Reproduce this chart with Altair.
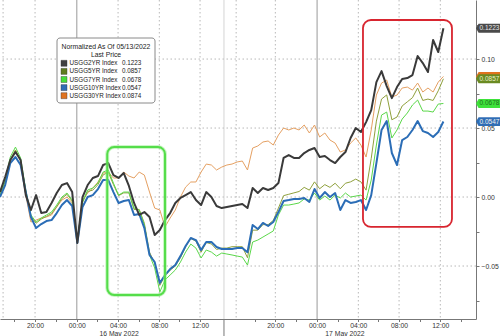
import json
import altair as alt
import pandas as pd

FONT = "Liberation Sans"

# ---------------- data ----------------
series = ["USGG2YR Index", "USGG5YR Index", "USGG7YR Index", "USGG10YR Index", "USGG30YR Index"]
last_price = ["0.1223", "0.0857", "0.0678", "0.0547", "0.0874"]
last_value = [0.1223, 0.0857, 0.0678, 0.0547, 0.0874]

# sample times, half-hour steps in session hours (break removed)
hours = [0.5 * i for i in range(87)]

y2 = [0.0036, 0.0145, 0.0268, 0.0326, 0.0268, 0.0014, -0.0094, 0.0014, -0.0116, -0.0109,
      -0.0043, 0.0029, 0.0087, 0.0101, 0.0036, -0.0333, 0.0, 0.0087, 0.0138, 0.0152,
      0.0232, 0.0246, 0.0159, 0.0138, 0.0174, 0.008, -0.0043, -0.013, -0.0109, -0.0145,
      -0.0275, -0.0239, -0.0167, -0.0116, -0.0043, -0.0007, 0.0014, 0.0036, -0.0022, -0.0058,
      0.0036, 0.0, -0.0065, -0.008, -0.0072, -0.0065, -0.0058, -0.0051, -0.008, 0.0065,
      0.0029, 0.0065, 0.0051, 0.0065, 0.0101, 0.0283, 0.0304, 0.0283, 0.0283, 0.0319,
      0.0341, 0.0355, 0.029, 0.0297, 0.0268, 0.0246, 0.029, 0.0326, 0.0428, 0.05,
      0.0471, 0.0543, 0.063, 0.0833, 0.0913, 0.0804, 0.0717, 0.0797, 0.0855, 0.0862,
      0.0884, 0.1022, 0.0971, 0.0906, 0.1138, 0.1051, 0.1223]

y5 = [0.001, 0.011, 0.027, 0.034, 0.026, 0.004, -0.014, -0.019, -0.016, -0.014,
      -0.012, -0.007, -0.001, 0.002, -0.003, -0.032, -0.004, 0.004, 0.005, 0.009,
      0.016, 0.018, 0.009, 0.001, 0.003, 0.003, -0.009, -0.009, -0.019, -0.04,
      -0.048, -0.064, -0.057, -0.053, -0.05, -0.044, -0.036, -0.03, -0.032, -0.04,
      -0.033, -0.034, -0.038, -0.037, -0.037, -0.036, -0.036, -0.036, -0.044, -0.024,
      -0.024, -0.02, -0.02, -0.017, -0.008, 0.001, 0.002, 0.003, 0.004, 0.007,
      0.005, 0.011, 0.006, 0.009, 0.007, 0.01, 0.006, 0.01, 0.011, 0.013,
      0.011, 0.005, 0.028, 0.055, 0.071, 0.074, 0.056, 0.058, 0.066, 0.069,
      0.072, 0.079, 0.07, 0.071, 0.07, 0.077, 0.0857]

y7 = [0.0014, 0.0123, 0.029, 0.0362, 0.0283, 0.0051, -0.013, -0.0181, -0.0152, -0.013,
      -0.0109, -0.0058, 0.0, 0.0029, -0.0022, -0.0312, -0.0036, 0.0051, 0.0065, 0.0101,
      0.0181, 0.0196, 0.0101, 0.0014, 0.0036, 0.0036, -0.008, -0.0094, -0.0203, -0.042,
      -0.0514, -0.0688, -0.0601, -0.0565, -0.0529, -0.0471, -0.0399, -0.0341, -0.037, -0.0442,
      -0.0384, -0.0399, -0.0428, -0.0406, -0.0413, -0.042, -0.0428, -0.0435, -0.0493, -0.0326,
      -0.0312, -0.029, -0.0268, -0.0246, -0.013, -0.0058, -0.0058, -0.0051, -0.0043, -0.0014,
      -0.0022, 0.0029, -0.0022, 0.0007, -0.0022, 0.0014, -0.0007, 0.0029, 0.0, 0.0007,
      0.0014, -0.0022, 0.0123, 0.0377, 0.0594, 0.0616, 0.0428, 0.0486, 0.0565, 0.0609,
      0.0667, 0.0703, 0.0623, 0.0623, 0.0616, 0.0674, 0.0678]

y10 = [0.0, 0.0087, 0.0246, 0.029, 0.0232, 0.0036, -0.0145, -0.0225, -0.0196, -0.0174,
       -0.0167, -0.0116, -0.0058, -0.0022, -0.0065, -0.0333, -0.0072, 0.0, 0.0014, 0.0058,
       0.0123, 0.0123, 0.0036, -0.0043, -0.0029, -0.0022, -0.013, -0.0123, -0.0225, -0.042,
       -0.0471, -0.0623, -0.0565, -0.0522, -0.0493, -0.0428, -0.0355, -0.0297, -0.0312, -0.0384,
       -0.0326, -0.0326, -0.0362, -0.0377, -0.0377, -0.0377, -0.037, -0.037, -0.04, -0.0203,
       -0.0232, -0.0188, -0.021, -0.0181, -0.0109, -0.0029, -0.0022, -0.0014, -0.0014, -0.0007,
       -0.0036, 0.0058, -0.0007, 0.0036, 0.0, 0.0029, -0.0094, -0.0022, -0.0043, -0.0036,
       -0.0022, -0.0094, 0.0014, 0.0246, 0.0486, 0.0551, 0.0319, 0.0232, 0.0413, 0.0435,
       0.0486, 0.0551, 0.0478, 0.0464, 0.0435, 0.0471, 0.0547]

y30 = [0.0036, 0.0138, 0.0268, 0.0341, 0.0268, 0.0014, -0.0181, -0.0167, -0.0152, -0.0145,
       -0.013, -0.0072, -0.0022, 0.0, -0.0043, -0.0312, -0.0022, 0.0029, 0.0065, 0.0109,
       0.0174, 0.0181, 0.0138, 0.0138, 0.0181, 0.0152, 0.0138, 0.0181, 0.0159, 0.0036,
       -0.008, -0.0094, -0.0217, -0.0152, -0.0094, 0.0, 0.0072, 0.0109, 0.0109, 0.0181,
       0.0239, 0.0232, 0.0196, 0.0217, 0.0232, 0.0239, 0.0254, 0.0261, 0.0196, 0.0355,
       0.037, 0.0399, 0.0406, 0.0377, 0.0449, 0.05, 0.0486, 0.05, 0.0486, 0.0522,
       0.0464, 0.0522, 0.0435, 0.0464, 0.0413, 0.0391, 0.0326, 0.0341, 0.0391, 0.0428,
       0.0377, 0.029, 0.0486, 0.0739, 0.0826, 0.0848, 0.0725, 0.0739, 0.079, 0.0797,
       0.0775, 0.0826, 0.0761, 0.079, 0.0761, 0.0833, 0.0874]

values = [y2, y5, y7, y10, y30]

# x-axis ticks
major_h = [3.4, 7.45, 11.45, 15.45, 19.4, 26.7, 30.75, 34.75, 38.7, 42.7]
major_lbl = ["20:00", "00:00", "04:00", "08:00", "12:00", "20:00", "00:00", "04:00", "08:00", "12:00"]
minor_h = [1.4, 5.4, 9.45, 13.45, 17.4, 24.7, 28.7, 32.75, 36.7, 40.7, 44.7]
date_lbl = ["16 May 2022", "17 May 2022"]
date_h = [11.55, 33.45]
day_sep_h = [21.72]
dotted_h = [0.3, 3.4, 11.45, 15.45, 19.4, 22.9, 26.7, 34.75, 38.7, 42.7]
solid_h = [7.45, 30.75]
y_major = [-0.05, 0.0, 0.05, 0.1]
y_ticks = [-0.075, -0.05, -0.025, 0.0, 0.025, 0.05, 0.075, 0.1, 0.125]

# highlight boxes
box_x1 = [10.4, 35.2]
box_x2 = [16.0, 43.83]
box_y1 = [0.0362, 0.1283]
box_y2 = [-0.071, -0.0217]

# ---------------- styles ----------------
line_colors = ["#3a3a3a", "#8fa03c", "#5bd84a", "#2b6db6", "#e5a062"]
line_widths = [2.0, 1.0, 1.0, 2.0, 1.0]
swatch_colors = ["#404040", "#5f7d1e", "#46dd38", "#2f6cb5", "#e0731f"]
tag_colors = ["#4a4a4a", "#6a8a22", "#3ee23a", "#2f6db5", "#e0731f"]
tag_text = ["#e8e8e8", "#e8f0c8", "#1f6e1f", "#f0f0f0", ""]

xs = alt.Scale(domain=[0, 46.16], nice=False, zero=False)
ys = alt.Scale(domain=[-0.0884, 0.1428], nice=False, zero=False)

one = pd.DataFrame({"a": [0]})

x_label_expr = "indexof(%s, datum.value) >= 0 ? %s[indexof(%s, datum.value)] : ''" % (
    json.dumps(major_h), json.dumps(major_lbl), json.dumps(major_h))
y_label_expr = "indexof(%s, datum.value) >= 0 ? format(datum.value, '.2f') : ''" % json.dumps(y_major)

x_axis = alt.Axis(values=major_h + minor_h, labelExpr=x_label_expr, title=None, grid=False,
                  tickSize=2.5, tickColor="#777777", domainColor="#777777", labelFontSize=6.8,
                  labelFont=FONT, labelColor="#333333", labelPadding=0.5, labelOverlap=False,
                  labelBound=False, labelFlush=False)
y_axis = alt.Axis(orient="right", values=y_ticks, labelExpr=y_label_expr, title=None, grid=False,
                  tickSize=3, tickColor="#777777", domainColor="#777777", labelFontSize=6.8,
                  labelFont=FONT, labelColor="#333333", labelPadding=2, labelOverlap=False,
                  labelBound=False, labelFlush=False)


def X(field):
    return alt.X(field, scale=xs, axis=x_axis)


def Y(field):
    return alt.Y(field, scale=ys, axis=y_axis)


# ---------------- layers ----------------
layers = []

layers.append(alt.Chart(pd.DataFrame({"v": y_major})).mark_rule(
    color="#b8b8b8", strokeDash=[1.5, 2.5], strokeWidth=1).encode(y=Y("v:Q")))
layers.append(alt.Chart(pd.DataFrame({"h": dotted_h})).mark_rule(
    color="#b8b8b8", strokeDash=[1.5, 2.5], strokeWidth=1).encode(x=X("h:Q")))
layers.append(alt.Chart(pd.DataFrame({"h": solid_h})).mark_rule(
    color="#9a9a9a", strokeWidth=1).encode(x=X("h:Q")))
layers.append(alt.Chart(pd.DataFrame({"h": day_sep_h})).mark_rule(
    color="#c8c8c8", strokeWidth=0.8).encode(x=X("h:Q")))

draw_order = [4, 1, 2, 3, 0]
for k in draw_order:
    df = pd.DataFrame({"h": hours, "v": values[k]})
    layers.append(alt.Chart(df).mark_line(
        color=line_colors[k], strokeWidth=line_widths[k], strokeJoin="round").encode(
        x=X("h:Q"), y=Y("v:Q")))

# highlight boxes
boxes = pd.DataFrame({"x1": box_x1, "x2": box_x2, "y1": box_y1, "y2": box_y2})
layers.append(alt.Chart(boxes.iloc[[0]]).mark_rect(
    fillOpacity=0, stroke="#9af090", strokeWidth=4, strokeOpacity=0.5, cornerRadius=7).encode(
    x=X("x1:Q"), x2="x2:Q", y=Y("y1:Q"), y2="y2:Q"))
layers.append(alt.Chart(boxes.iloc[[0]]).mark_rect(
    fillOpacity=0, stroke="#55dd4a", strokeWidth=2, cornerRadius=7).encode(
    x=X("x1:Q"), x2="x2:Q", y=Y("y1:Q"), y2="y2:Q"))
layers.append(alt.Chart(boxes.iloc[[1]]).mark_rect(
    fillOpacity=0, stroke="#d8252f", strokeWidth=1.8, cornerRadius=8).encode(
    x=X("x1:Q"), x2="x2:Q", y=Y("y1:Q"), y2="y2:Q"))

# legend box
layers.append(alt.Chart(one).mark_rect(
    fill="white", stroke="#8a8a8a", strokeWidth=1, cornerRadius=3).encode(
    x=alt.value(57), x2=alt.value(155), y=alt.value(38), y2=alt.value(103)))
for j, t in enumerate(["Normalized As Of 05/13/2022", "Last Price"]):
    layers.append(alt.Chart(one).mark_text(
        text=t, font=FONT, fontSize=6.8, color="#222222", align="center", baseline="middle").encode(
        x=alt.value(106), y=alt.value(46.5 + 8.3 * j)))
for k in range(5):
    yc = 63.3 + 8.1 * k
    layers.append(alt.Chart(one).mark_rect(
        fill=swatch_colors[k], stroke="#333333", strokeWidth=0.4).encode(
        x=alt.value(61), x2=alt.value(67), y=alt.value(yc - 3), y2=alt.value(yc + 3)))
    layers.append(alt.Chart(one).mark_text(
        text=series[k], font=FONT, fontSize=6.3, color="#222222", align="left", baseline="middle").encode(
        x=alt.value(69.5), y=alt.value(yc)))
    layers.append(alt.Chart(one).mark_text(
        text=last_price[k], font=FONT, fontSize=6.3, color="#222222", align="left", baseline="middle").encode(
        x=alt.value(122), y=alt.value(yc)))

# right-side value tags (30Y tag sits under the 5Y tag)
tag_shape = "M-1,0L-0.8,-0.34L1,-0.34L1,0.34L-0.8,0.34Z"
tag_order = [0, 4, 1, 2, 3]
for k in tag_order:
    tdf = pd.DataFrame({"v": [last_value[k]], "t": [last_price[k]]})
    layers.append(alt.Chart(tdf).mark_point(
        shape=tag_shape, size=676, filled=True, opacity=1, color=tag_colors[k]).encode(
        x=alt.value(489), y=Y("v:Q")))
    if tag_text[k]:
        layers.append(alt.Chart(tdf).mark_text(
            font=FONT, fontSize=6.5, color=tag_text[k], align="left", baseline="middle").encode(
            x=alt.value(479.5), y=Y("v:Q"), text="t:N"))

# date labels + separator in label area
layers.append(alt.Chart(pd.DataFrame({"h": date_h, "t": date_lbl})).mark_text(
    font=FONT, fontSize=6.8, color="#333333", align="center", baseline="middle").encode(
    x=X("h:Q"), y=alt.value(333.5), text="t:N"))
layers.append(alt.Chart(pd.DataFrame({"h": day_sep_h})).mark_rule(
    color="#777777", strokeWidth=1).encode(
    x=X("h:Q"), y=alt.value(319), y2=alt.value(336)))

chart = alt.layer(*layers).properties(
    width=476, height=319,
    autosize=alt.AutoSizeParams(type="none"),
    padding={"left": 0, "top": 0, "right": 24, "bottom": 17},
    background="white",
).configure_view(stroke=None)

chart.save("out.html", embed_options={"renderer": "svg", "actions": False})
